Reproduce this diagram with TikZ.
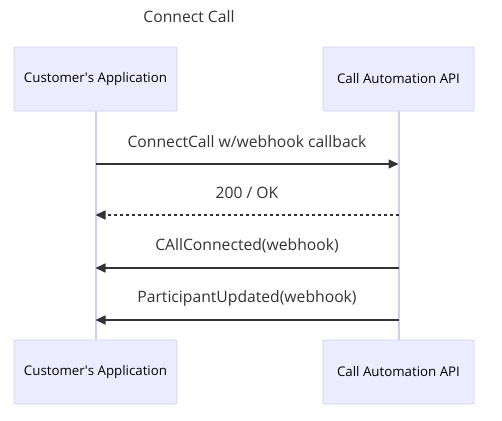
\documentclass[tikz,border=0pt]{standalone}
\usepackage{fontspec}
\setmainfont{Open Sans}
\usetikzlibrary{arrows.meta, positioning, calc}
\definecolor{actorfill}{HTML}{ECECFF}
\definecolor{actorline}{HTML}{D3CBF3}
\definecolor{msgline}{HTML}{333333}

\begin{document}
\begin{tikzpicture}[
    x=1pt, y=-1pt,
    % Define styles
    actor/.style={rectangle, draw=actorline, fill=actorfill, line width=0.8pt, rounded corners=2pt, minimum height=64pt, inner sep=0pt, font=\fontsize{13.3}{15}\selectfont, text=black},
    lifeline/.style={draw=actorline, line width=2pt},
    msg/.style={draw=msgline, line width=1.6pt, -{Triangle[length=10pt, width=9pt]}},
    reply/.style={msg, dash pattern=on 3pt off 3pt},
    label/.style={font=\fontsize{15.7}{18}\selectfont, text=msgline},
    ]

    \useasboundingbox (0,0) rectangle (502,420);

    % Title
    \node[label] (title) at (189,17) {Connect Call};

    % Actors on top
    \node[actor, minimum width=163pt] (custTop) at (95.5,79) {Customer\textquotesingle s Application};
    \node[actor, minimum width=151pt] (apiTop) at (398.5,79) {Call Automation API};

    % Actors at the bottom
    \node[actor, minimum width=163pt] (custBot) at (95.5,372) {Customer\textquotesingle s Application};
    \node[actor, minimum width=151pt] (apiBot) at (398.5,372) {Call Automation API};

    % Lifelines
    \draw[lifeline] (custTop.south) -- (custBot.north);
    \draw[lifeline] (apiTop.south) -- (apiBot.north);

    % Points on the lifelines
    \coordinate (c1) at (custTop.south |- 0,164);
    \coordinate (a1) at (apiTop.south |- 0,164);
    \coordinate (c2) at (custTop.south |- 0,215);
    \coordinate (a2) at (apiTop.south |- 0,215);
    \coordinate (c3) at (custTop.south |- 0,268);
    \coordinate (a3) at (apiTop.south |- 0,268);
    \coordinate (c4) at (custTop.south |- 0,320);
    \coordinate (a4) at (apiTop.south |- 0,320);

    % Messages
    \draw[msg] (c1) -- (a1);
    \node[label] (l1) at ($(c1)!0.5!(a1) + (0,-22)$) {ConnectCall w/webhook callback};

    \draw[reply] (a2) -- (c2);
    \node[label] (l2) at ($(c2)!0.5!(a2) + (0,-22)$) {200 / OK};

    \draw[msg] (a3) -- (c3);
    \node[label] (l3) at ($(c3)!0.5!(a3) + (0,-22)$) {CAllConnected(webhook)};

    \draw[msg] (a4) -- (c4);
    \node[label] (l4) at ($(c4)!0.5!(a4) + (0,-22)$) {ParticipantUpdated(webhook)};

\end{tikzpicture}
\end{document}
